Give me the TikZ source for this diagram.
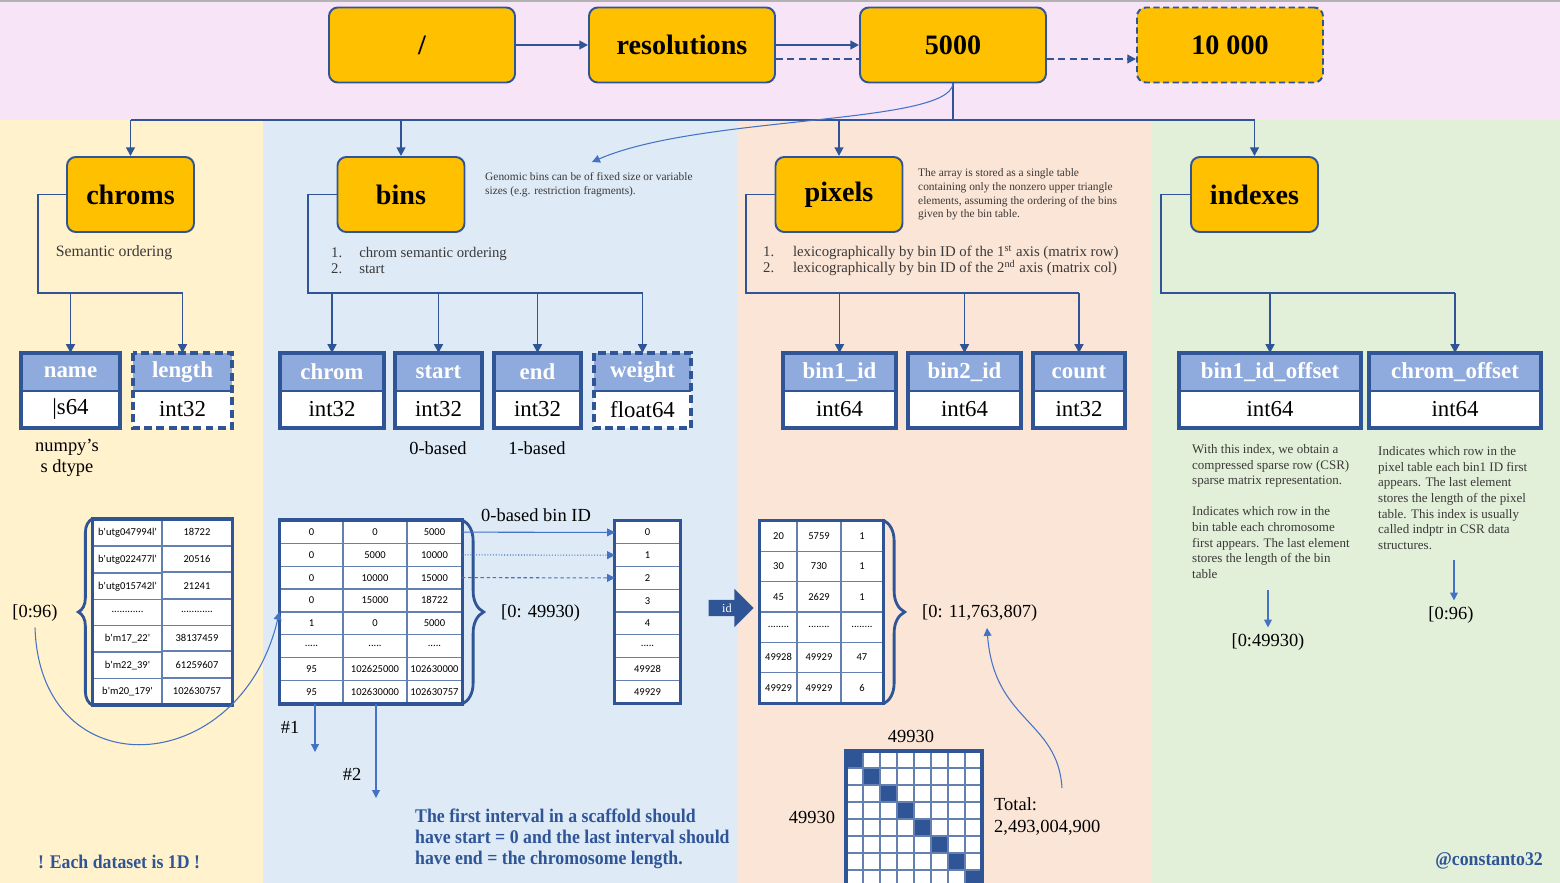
\documentclass[tikz,border=0pt]{standalone}
\usepackage{fontspec}
\setmainfont{Liberation Serif}
\newfontfamily\cellfont{Carlito}
\newfontfamily\condfont[FakeStretch=0.92]{Liberation Serif}
\usetikzlibrary{arrows.meta,positioning,matrix,decorations.pathreplacing,shapes.arrows}

\definecolor{dblue}{HTML}{2F5597}
\definecolor{lblue}{HTML}{4472C4}
\definecolor{hblue}{HTML}{8FAADC}
\definecolor{gold}{HTML}{FFC000}
\definecolor{bgpink}{HTML}{F7E4F7}
\definecolor{bgyellow}{HTML}{FFF2CC}
\definecolor{bgblue}{HTML}{DEEBF7}
\definecolor{bgpeach}{HTML}{FBE5D6}
\definecolor{bggreen}{HTML}{E2F0D9}
\definecolor{notegray}{HTML}{3B3838}

\newcommand{\pix}{0.02cm}

\tikzset{
  keybox/.style={draw=dblue, fill=gold, line width=1.1pt, rounded corners=5pt,
    minimum width=186*\pix, minimum height=75*\pix, font=\bfseries\fontsize{16}{18}\selectfont},
  groupbox/.style={keybox, minimum width=127*\pix},
  tree/.style={draw=dblue, line width=1.1pt},
  link/.style={tree, -{Triangle[length=5pt,width=5pt]}},
  thinlink/.style={draw=lblue, line width=0.6pt, -{Triangle[length=4.5pt,width=4.5pt]}},
  fhead/.style={fill=hblue, text=white, font=\bfseries\fontsize{13}{15}\selectfont,
    minimum height=38*\pix, inner sep=0pt, outer sep=0pt},
  fbody/.style={fill=white, font=\fontsize{13}{15}\selectfont,
    minimum height=37*\pix, inner sep=0pt, outer sep=0pt},
  sepline/.style={draw=dblue, line width=0.8pt},
  fieldframe/.style={draw=dblue, line width=2pt},
  solidbox/.style={},
  dashbox/.style={dash pattern=on 4.5pt off 2.5pt},
  cell/.style={draw=dblue!75, line width=0.7pt, fill=white, inner sep=0.5pt,
    font=\cellfont\fontsize{6}{7}\selectfont},
  tab/.style={matrix of nodes, inner sep=0pt, outer sep=0pt,
    column sep=-0.7pt, row sep=-0.7pt, nodes={cell}},
  frame/.style={draw=dblue, line width=2pt},
  brace/.style={draw=dblue, line width=1.6pt, decorate},
  item/.style={text=notegray, align=left, font=\fontsize{8.4}{9.1}\selectfont},
  note/.style={text=notegray, align=left, font=\fontsize{6.5}{7.8}\selectfont},
  idxnote/.style={text=notegray, align=left, font=\fontsize{7.4}{8.9}\selectfont},
  label/.style={font=\fontsize{10.5}{12}\selectfont},
  remark/.style={text=dblue, align=left, font=\condfont\bfseries\fontsize{11}{12}\selectfont}
}

\begin{document}
\begin{tikzpicture}[x=0.02cm, y=-0.02cm]
\useasboundingbox (0,0) rectangle (1560,883);

% bands
\fill[bgpink] (0,0) rectangle (1560,120);
\fill[bgyellow] (0,120) rectangle (263,883);
\fill[bgblue] (263,120) rectangle (738,883);
\fill[bgpeach] (738,120) rectangle (1152,883);
\fill[bggreen] (1152,120) rectangle (1560,883);
\draw[gray!60, line width=1pt] (0,1) -- (1560,1);

% top row
\node[keybox] (root) at (422,45) {/};
\node[keybox] (resol) at (682,45) {resolutions};
\node[keybox] (res5k) at (953,45) {5000};
\node[keybox, dash pattern=on 3.5pt off 2pt] (res10k) at (1230,45) {10 000};

\draw[link] (root) -- (resol);
\draw[link] (resol) -- (res5k);
\draw[tree, dash pattern=on 4pt off 2.5pt] ([yshift=-14*\pix]resol.east) -- ([yshift=-14*\pix]res5k.west);
\draw[link, dash pattern=on 4pt off 2.5pt] ([yshift=-14*\pix]res5k.east) -- ([yshift=-14*\pix]res10k.west);

% groups
\node[groupbox] (chroms) at (130.5,194.5) {chroms};
\node[groupbox] (bins) at (401,194.5) {bins};
\node[groupbox] (pixels) at (839,194.5) {pixels};
\node[groupbox] (indexes) at (1254.5,194.5) {indexes};

\coordinate (bar) at (953,120);
\draw[tree] (res5k.south) -- (bar);
\draw[tree] (chroms.north |- bar) -- (indexes.north |- bar);
\draw[link] (chroms.north |- bar) -- (chroms.north);
\draw[link] (bins.north |- bar) -- (bins.north);
\draw[link] (pixels.north |- bar) -- (pixels.north);
\draw[link] (indexes.north |- bar) -- (indexes.north);

\coordinate (binstip) at (592,162);
\draw[thinlink] (res5k.south) .. controls (950,125) and (700,115) .. (binstip);

% fields
\foreach \nm/\lbl/\typ/\cx/\fw/\frm in {
    chrname/name/\textbar s64/70.5/99/solidbox,
    chrlen/length/int32/182.5/99/dashbox,
    binchrom/chrom/int32/332/104/solidbox,
    binstart/start/int32/438.5/87/solidbox,
    binend/end/int32/537.5/87/solidbox,
    binweight/weight/float64/642.5/97/dashbox,
    bina/bin1\_id/int64/839.5/113/solidbox,
    binb/bin2\_id/int64/964.5/113/solidbox,
    pixcount/count/int32/1079/92/solidbox,
    binoff/bin1\_id\_offset/int64/1270/182/solidbox,
    chromoff/chrom\_offset/int64/1455/172/solidbox}
{
  \node[fhead, minimum width=\fw*\pix] (\nm) at (\cx,372) {\lbl};
  \node[fbody, minimum width=\fw*\pix, below=0pt of \nm] (\nm-t) {\typ};
  \draw[sepline] (\nm.south west) -- (\nm.south east);
  \draw[fieldframe, \frm] (\nm.north west) rectangle (\nm-t.south east);
}

% chroms tree
\coordinate (chromsbar) at (38,293);
\draw[tree] (chroms.west) -| (chromsbar) -- (chrlen.north |- chromsbar);
\draw[link] (chrname.north |- chromsbar) -- (chrname.north);
\draw[link] (chrlen.north |- chromsbar) -- (chrlen.north);
\node[item, font=\fontsize{9}{9.1}\selectfont] (chromsord) at (114,253) {Semantic ordering};

% bins tree
\coordinate (binsbar) at (308,293);
\draw[tree] (bins.west) -| (binsbar) -- (binweight.north |- binsbar);
\draw[link] (binchrom.north |- binsbar) -- (binchrom.north);
\draw[link] (binstart.north |- binsbar) -- (binstart.north);
\draw[link] (binend.north |- binsbar) -- (binend.north);
\draw[link] (binweight.north |- binsbar) -- (binweight.north);
\node[item, anchor=west] (binsord) at (325,260) {\makebox[16pt][l]{1.}chrom semantic ordering\\\makebox[16pt][l]{2.}start};
\node[note, anchor=west] (binsnote) at (479,185) {Genomic bins can be of fixed size or variable\\sizes (e.g. restriction fragments).};

% pixels tree
\coordinate (pixbar) at (746,293);
\draw[tree] (pixels.west) -| (pixbar) -- (pixcount.north |- pixbar);
\draw[link] (bina.north |- pixbar) -- (bina.north);
\draw[link] (binb.north |- pixbar) -- (binb.north);
\draw[link] (pixcount.north |- pixbar) -- (pixcount.north);
\node[item, anchor=west] (pixord) at (757,261) {\makebox[17pt][l]{1.}lexicographically by bin ID of the 1\textsuperscript{st} axis (matrix row)\\\makebox[17pt][l]{2.}lexicographically by bin ID of the 2\textsuperscript{nd} axis (matrix col)};
\node[note, anchor=west] (pixnote) at (912,194.5) {The array is stored as a single table\\containing only the nonzero upper triangle\\elements, assuming the ordering of the bins\\given by the bin table.};

% indexes tree
\coordinate (idxbar) at (1161,293);
\draw[tree] (indexes.west) -| (idxbar) -- (chromoff.north |- idxbar);
\draw[link] (binoff.north |- idxbar) -- (binoff.north);
\draw[link] (chromoff.north |- idxbar) -- (chromoff.north);

% labels under fields
\node[label, align=center] (numpy) at (67,458) {numpy’s\\s dtype};
\node[label] (zerob) at (438,448) {0-based};
\node[label] (oneb) at (537,448) {1-based};

% chroms table
\matrix[tab, nodes={minimum height=0.518cm},
  column 1/.style={nodes={minimum width=1.38cm}},
  column 2/.style={nodes={minimum width=1.4cm}}] (chromtab) at (162.5,612) {
b'utg047994l' & 18722 \\
b'utg022477l' & 20516 \\
b'utg015742l' & 21241 \\
............ & ............ \\
b'm17\_22' & 38137459 \\
b'm22\_39' & 61259607 \\
b'm20\_179' & 102630757 \\
};
\draw[frame] (chromtab.north west) rectangle (chromtab.south east);
\draw[brace, decoration={brace, amplitude=8pt}] (chromtab.south west) -- (chromtab.north west);
\node[label] (chrange) at (35,613) {[0:96)};

% bins table
\matrix[tab, nodes={minimum height=0.455cm},
  column 1/.style={nodes={minimum width=1.26cm}},
  column 2/.style={nodes={minimum width=1.28cm}},
  column 3/.style={nodes={minimum width=1.1cm}}] (bintab) at (371,612) {
0 & 0 & 5000 \\
0 & 5000 & 10000 \\
0 & 10000 & 15000 \\
0 & 15000 & 18722 \\
1 & 0 & 5000 \\
..... & ..... & ..... \\
95 & 102625000 & 102630000 \\
95 & 102630000 & 102630757 \\
};
\draw[frame] (bintab.north west) rectangle (bintab.south east);
\draw[brace, decoration={brace, amplitude=12pt}] (bintab.north east) -- (bintab.south east);
\node[label, anchor=west] (binrange) at (495,613) {[0: 49930)};

\draw[thinlink] (chrange.south) .. controls (40,790) and (240,780) .. (bintab.west);

% bin ids
\matrix[tab, nodes={minimum height=0.455cm, minimum width=1.3cm}] (idtab) at (647.5,612) {
0 \\ 1 \\ 2 \\ 3 \\ 4 \\ ..... \\ 49928 \\ 49929 \\
};
\draw[frame] (idtab.north west) rectangle (idtab.south east);
\node[label] (binid) at (536,515) {0-based bin ID};
\draw[thinlink] (bintab-1-3.east) -- (idtab-1-1.west);
\draw[thinlink, densely dotted] (bintab-2-3.east) -- (idtab-2-1.west);
\draw[thinlink, dash pattern=on 2pt off 1.5pt] (bintab-3-3.east) -- (idtab-3-1.west);

\coordinate (hashone) at (315,752);
\coordinate (hashtwo) at (376,798);
\draw[thinlink] (hashone |- bintab.south) -- (hashone);
\draw[thinlink] (hashtwo |- bintab.south) -- (hashtwo);
\node[label] (hashonel) at (290,727) {\#1};
\node[label] (hashtwol) at (352,774) {\#2};

\node[single arrow, fill=dblue, text=white, font=\fontsize{7}{8}\selectfont, inner sep=2pt,
  minimum height=0.9cm, single arrow head extend=0.22cm] (idarr) at (727,608) {id};

% pixels table
\matrix[tab, nodes={minimum height=0.606cm},
  column 1/.style={nodes={minimum width=0.74cm}},
  column 2/.style={nodes={minimum width=0.88cm}},
  column 3/.style={nodes={minimum width=0.84cm}}] (pixtab) at (821.5,612) {
20 & 5759 & 1 \\
30 & 730 & 1 \\
45 & 2629 & 1 \\
........ & ........ & ........ \\
49928 & 49929 & 47 \\
49929 & 49929 & 6 \\
};
\draw[frame] (pixtab.north west) rectangle (pixtab.south east);
\draw[brace, decoration={brace, amplitude=12pt}] (pixtab.north east) -- (pixtab.south east);
\node[label, anchor=west] (pixrange) at (916,613) {[0: 11,763,807)};

% contact matrix
\fill[white] (846,751) rectangle (982,887);
\foreach \k in {0,...,7}
  \fill[dblue] (846+17*\k,751+17*\k) rectangle ++(17,17);
\foreach \k in {1,...,7} {
  \draw[dblue!75, line width=0.7pt] (846+17*\k,751) -- ++(0,136);
  \draw[dblue!75, line width=0.7pt] (846,751+17*\k) -- ++(136,0);
}
\draw[frame] (846,751) rectangle (982,887);
\node[label] (ncols) at (911,736) {49930};
\node[label] (nrows) at (812,817) {49930};
\node[label, anchor=west, align=left] (total) at (988,816.5) {Total:\\2,493,004,900};

\coordinate (pixtip) at (987,628);
\draw[thinlink] (1062,788) .. controls (1058,720) and (994,722) .. (pixtip);

% indexes notes
\node[idxnote, anchor=west] (binoffnote) at (1186,511.5) {With this index, we obtain a\\compressed sparse row (CSR)\\sparse matrix representation.\\[8.9pt]Indicates which row in the\\bin table each chromosome\\first appears. The last element\\stores the length of the bin\\table};
\node[idxnote, anchor=west] (chromoffnote) at (1372,498) {Indicates which row in the\\pixel table each bin1 ID first\\appears. The last element\\stores the length of the pixel\\table. This index is usually\\called indptr in CSR data\\structures.};
\node[label] (binoffrange) at (1268,642) {[0:49930)};
\node[label] (chromoffrange) at (1451,615) {[0:96)};
\coordinate (binofftip) at (1268,590);
\coordinate (chromofftip) at (1454,560);
\draw[thinlink] (binofftip) -- (binoffrange.north -| binofftip);
\draw[thinlink] (chromofftip) -- (chromoffrange.north -| chromofftip);

% remarks
\node[remark] (onedim) at (119,862) {! Each dataset is 1D !};
\node[remark, anchor=west] (scaffold) at (409,839) {The first interval in a scaffold should\\have start = 0 and the last interval should\\have end = the chromosome length.};
\node[remark, anchor=east] (author) at (1549,861) {@constanto32};

\end{tikzpicture}
\end{document}
